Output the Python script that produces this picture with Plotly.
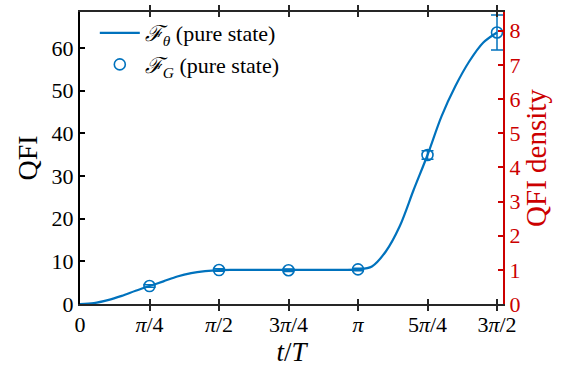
import plotly.graph_objects as go

# data (x in units of pi, t/T)
curve_t = [0, 0.05, 0.1, 0.15, 0.2, 0.25, 0.3, 0.35, 0.4, 0.45, 0.5, 0.55, 0.6, 0.65, 0.7, 0.75, 0.8,
           0.85, 0.9, 0.95, 1.0, 1.05, 1.1, 1.15, 1.2, 1.25, 1.3, 1.35, 1.4, 1.45, 1.5]
curve_qfi = [0, 0.2, 0.9, 1.9, 3.1, 4.2, 5.3, 6.45, 7.25, 7.7, 7.95, 8.0, 8.0, 8.0, 8.0, 8.0, 8.0,
             8.0, 8.0, 8.0, 8.1, 8.8, 12.3, 18.2, 26.7, 34.9, 43.9, 51.0, 56.8, 61.2, 63.6]
pts_t = [0.25, 0.5, 0.75, 1.0, 1.25, 1.5]
pts_qfi = [4.2, 7.95, 7.9, 8.1, 34.9, 63.6]
pts_err = [0.3, 0.3, 0.3, 0.3, 1.0, 4.1]
xtick_vals = [0, 0.25, 0.5, 0.75, 1.0, 1.25, 1.5]
xtick_text = ["0", "<i>π</i>/4", "<i>π</i>/2", "3<i>π</i>/4", "<i>π</i>", "5<i>π</i>/4", "3<i>π</i>/2"]
n_sites = 8

BLUE = "#0072BD"
RED = "#CC0000"
FONT = "Liberation Serif"

fig = go.Figure()
fig.add_trace(go.Scatter(
    x=curve_t, y=curve_qfi, mode="lines",
    line=dict(color=BLUE, width=2.2, shape="spline", smoothing=0.9),
    name="<i>ℱ</i><sub><i>θ</i></sub> (pure state)"))
fig.add_trace(go.Scatter(
    x=pts_t, y=pts_qfi, mode="markers", cliponaxis=False,
    marker=dict(symbol="circle-open", size=11, color=BLUE, line=dict(width=1.6, color=BLUE)),
    error_y=dict(type="data", array=pts_err, visible=True, color=BLUE, thickness=1.5, width=6),
    name="<i>ℱ</i><sub><i>G</i></sub> (pure state)"))
fig.add_trace(go.Scatter(
    x=curve_t, y=[v / n_sites for v in curve_qfi], mode="lines", yaxis="y2",
    line=dict(color="rgba(0,0,0,0)", width=0), showlegend=False, hoverinfo="skip"))

ymax = 68.4
fig.update_layout(
    width=562, height=368,
    margin=dict(l=80, r=59, t=10, b=64),
    paper_bgcolor="white", plot_bgcolor="white",
    font=dict(family=FONT, size=22, color="black"),
    showlegend=True,
    legend=dict(x=0.035, y=1.0, xanchor="left", yanchor="top", bgcolor="rgba(0,0,0,0)",
                font=dict(family=FONT, size=22), tracegroupgap=0, itemwidth=40),
    xaxis=dict(range=[0, 1.5216], tickvals=xtick_vals, ticktext=xtick_text,
               showline=True, linecolor="#262626", linewidth=2, mirror="allticks",
               ticks="inside", ticklen=5, tickwidth=1.5, tickcolor="#262626",
               showgrid=False, zeroline=False,
               title=dict(text="<i>t</i>/<i>T</i>", font=dict(family=FONT, size=27), standoff=2),
               tickfont=dict(family=FONT, size=22)),
    yaxis=dict(range=[0, ymax], tickvals=[0, 10, 20, 30, 40, 50, 60],
               showline=True, linecolor="black", linewidth=2,
               ticks="inside", ticklen=5, tickwidth=1.5, tickcolor="black",
               showgrid=False, zeroline=False,
               title=dict(text="QFI", font=dict(family=FONT, size=28), standoff=6),
               tickfont=dict(family=FONT, size=22)),
    yaxis2=dict(range=[0, ymax / n_sites], tickvals=list(range(0, 9)), overlaying="y", side="right",
                showline=True, linecolor=RED, linewidth=2,
                ticks="inside", ticklen=5, tickwidth=1.5, tickcolor=RED,
                showgrid=False, zeroline=False,
                tickfont=dict(family=FONT, size=22, color=RED),
                title=dict(text="QFI density", font=dict(family=FONT, size=29, color=RED), standoff=6)),
)
fig.write_html("out.html")
